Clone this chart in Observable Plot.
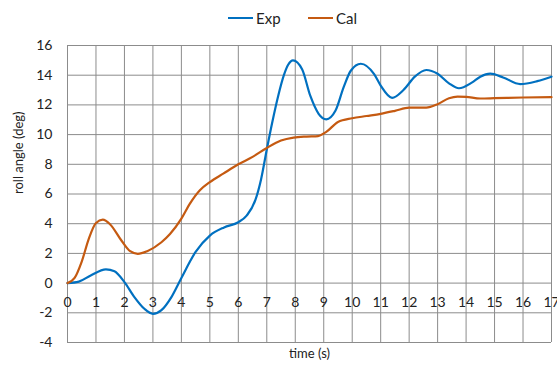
<!DOCTYPE html>
<html><head><meta charset="utf-8">
<script src="https://cdn.jsdelivr.net/npm/d3@7"></script>
<script src="https://cdn.jsdelivr.net/npm/@observablehq/plot@0.6"></script>
<style>
body{margin:0;background:#fff;font-family:Lato,"Open Sans",sans-serif;}
#wrap{position:relative;width:557px;height:365px;}
#legend{position:absolute;left:0;top:0;width:557px;height:36px;font-size:15px;color:#222;}
.item{position:absolute;top:9px;display:flex;align-items:center;}
.sw{display:inline-block;width:25px;height:2px;margin-right:3px;}
#chart{position:absolute;left:0;top:36px;}
</style></head><body>
<div id="wrap">
<div id="legend">
 <div class="item" style="left:228px"><span class="sw" style="background:#0070C0"></span>Exp</div>
 <div class="item" style="left:308px"><span class="sw" style="background:#C55A11"></span>Cal</div>
</div>
<div id="chart"></div>
</div>
<script>
const expT = [0,0.4,0.8,1.35,1.65,2.0,2.35,2.7,3.0,3.3,3.65,4.0,4.5,5.0,5.5,6.0,6.3,6.6,6.8,7.0,7.2,7.4,7.6,7.75,7.92,8.24,8.53,8.82,9.09,9.41,9.7,9.95,10.3,10.77,11.0,11.4,11.8,12.2,12.6,13.0,13.4,13.75,14.2,14.5,14.85,15.3,15.9,16.5,17];
const expV = [0,0.1,0.5,0.93,0.8,0.07,-0.94,-1.73,-2.07,-1.82,-0.94,0.35,2.1,3.2,3.75,4.1,4.56,5.6,7.0,9.0,10.9,12.6,14.0,14.7,15.0,14.4,12.6,11.4,11.03,11.6,13.2,14.3,14.77,14.07,13.3,12.47,13.0,13.9,14.35,14.1,13.45,13.12,13.5,13.9,14.1,13.85,13.4,13.6,13.9];
const calT = [0,0.25,0.5,0.75,1.0,1.24,1.5,1.9,2.2,2.47,2.8,3.3,3.6,4.0,4.3,4.65,5.0,5.47,6.0,6.5,7.0,7.5,7.94,8.4,8.8,9.1,9.5,10.0,10.5,11.0,11.5,12.0,12.6,13.0,13.4,13.7,14.0,14.5,15.0,16.0,17.0];
const calV = [0,0.35,1.45,3.0,4.05,4.27,3.95,2.85,2.15,1.97,2.15,2.75,3.3,4.34,5.35,6.25,6.8,7.37,8.0,8.5,9.1,9.6,9.8,9.87,9.9,10.2,10.85,11.1,11.25,11.4,11.6,11.82,11.82,12.05,12.45,12.56,12.54,12.43,12.45,12.5,12.52];
const xTicks = d3.range(0,18);
const yTicks = d3.range(-4,17,2);

const exp = expT.map((t,i)=>({t, v:expV[i]}));
const cal = calT.map((t,i)=>({t, v:calV[i]}));

const chart = Plot.plot({
  width:557, height:329,
  marginLeft:67, marginRight:6, marginTop:9, marginBottom:23,
  style:{fontFamily:"Lato, 'Open Sans', sans-serif", fontSize:"14px", color:"#222", overflow:"visible"},
  x:{domain:[0,17], axis:null},
  y:{domain:[-4,16], axis:null},
  marks:[
    Plot.gridX(xTicks,{stroke:"#8c8c8c", strokeOpacity:1}),
    Plot.gridY(yTicks,{stroke:"#8c8c8c", strokeOpacity:1}),
    Plot.text(yTicks,{y:d=>d, frameAnchor:"left", dx:-15, textAnchor:"end", text:d=>String(d), fontSize:14, fill:"#222"}),
    Plot.text(xTicks,{x:d=>d, y:0, dy:19, text:d=>String(d), fontSize:14, fill:"#222"}),
    Plot.line(exp,{x:"t", y:"v", stroke:"#0070C0", strokeWidth:2.2, curve:"monotone-x"}),
    Plot.line(cal,{x:"t", y:"v", stroke:"#C55A11", strokeWidth:2.2, curve:"monotone-x"}),
    Plot.text(["roll angle (deg)"],{frameAnchor:"left", dx:-49, rotate:-90, fontSize:13, fill:"#222"}),
    Plot.text(["time (s)"],{frameAnchor:"bottom", dy:15, fontSize:13, fill:"#222"})
  ]
});
document.getElementById("chart").appendChild(chart);
</script>
</body></html>
